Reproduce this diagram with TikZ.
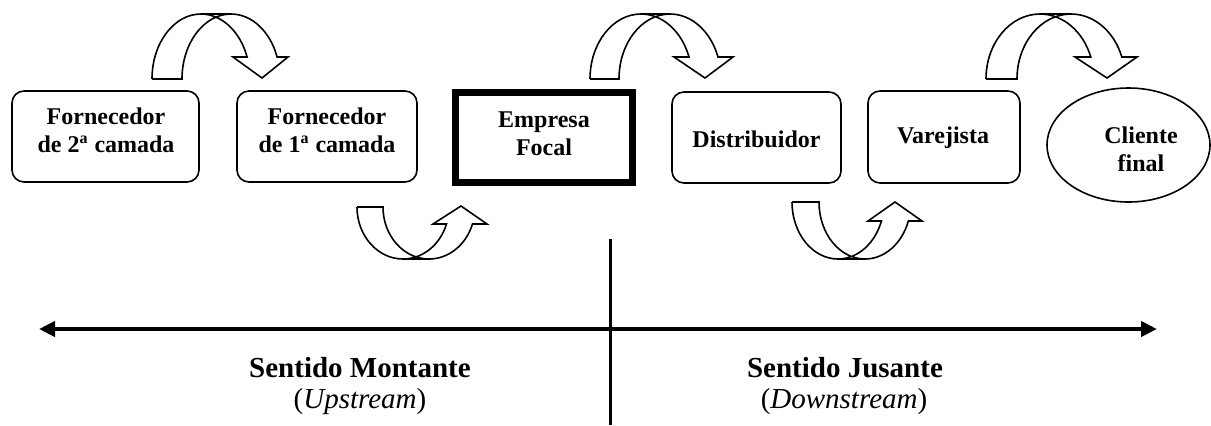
\documentclass[tikz,border=0pt]{standalone}
\usepackage{fontspec}
\setmainfont{Liberation Serif}
\usetikzlibrary{arrows.meta,shapes.geometric}
\newcommand{\boxfont}{\bfseries\fontsize{12}{14}\selectfont}
\begin{document}
\begin{tikzpicture}[x=0.5pt,y=-0.5pt,
  stage/.style={draw,line width=0.8pt,rounded corners=6pt,inner sep=0pt},
  lbl/.style={align=center,font=\boxfont,inner sep=0pt},
  blockarrow/.style={draw,line width=0.8pt,line join=miter},
  axis/.style={line width=2pt},
  head/.style={font=\bfseries\fontsize{14.5}{16}\selectfont,inner sep=0pt},
  sub/.style={font=\fontsize{14.5}{16}\selectfont,inner sep=0pt}]
\useasboundingbox (0,0) rectangle (1211,425);

% supply chain stages
\node[stage,minimum width=93.5pt,minimum height=45.5pt] (f2) at (105.5,136.5) {};
\node[lbl] (f2t) at (106,130) {Fornecedor\\de 2\textsuperscript{a} camada};
\node[stage,minimum width=90pt,minimum height=45.5pt] (f1) at (327,136.5) {};
\node[lbl] (f1t) at (327,130) {Fornecedor\\de 1\textsuperscript{a} camada};
\node[draw,line width=3.5pt,minimum width=88.5pt,minimum height=45pt,inner sep=0pt] (focal) at (544,137.5) {};
\node[lbl] (focalt) at (544,134) {Empresa\\Focal};
\node[stage,minimum width=84.5pt,minimum height=45.5pt] (dist) at (756.5,137.5) {};
\node[lbl] (distt) at (756.5,139) {Distribuidor};
\node[stage,minimum width=76pt,minimum height=46pt] (var) at (944,137) {};
\node[lbl] (vart) at (943,138) {Varejista};
\node[draw,ellipse,line width=0.8pt,minimum width=81.5pt,minimum height=57pt,inner sep=0pt] (cli) at (1128.5,145) {};
\node[lbl] (clit) at (1141,149) {Cliente\\final};

% curved block arrows above the stages
\draw[blockarrow] (152,79) arc[start angle=180,end angle=270,x radius=49,y radius=65]
  -- (231,14) arc[start angle=270,end angle=340.2,x radius=49,y radius=65]
  -- (288,57) -- (262,78) -- (233,57) -- (247.1,57)
  arc[start angle=340.2,end angle=270,x radius=49,y radius=65]
  (231,14) arc[start angle=270,end angle=180,x radius=49,y radius=65] -- (152,79);
\draw[blockarrow] (590,79) arc[start angle=180,end angle=270,x radius=51,y radius=65]
  -- (670,14) arc[start angle=270,end angle=340.2,x radius=51,y radius=65]
  -- (733,57) -- (705,78) -- (674,57) -- (689,57)
  arc[start angle=340.2,end angle=270,x radius=51,y radius=65]
  (670,14) arc[start angle=270,end angle=180,x radius=51,y radius=65] -- (590,79);
\draw[blockarrow] (986,79) arc[start angle=180,end angle=270,x radius=54,y radius=65]
  -- (1071,14) arc[start angle=270,end angle=340.2,x radius=54,y radius=65]
  -- (1137,57) -- (1107,78) -- (1075,57) -- (1090.8,57)
  arc[start angle=340.2,end angle=270,x radius=54,y radius=65]
  (1071,14) arc[start angle=270,end angle=180,x radius=54,y radius=65] -- (986,79);

% curved block arrows below the stages
\draw[blockarrow] (357,207) arc[start angle=180,end angle=90,x radius=46,y radius=52]
  -- (429,259) arc[start angle=90,end angle=19.1,x radius=46,y radius=52]
  -- (487,224) -- (461,206) -- (433,224) -- (446.5,224)
  arc[start angle=19.1,end angle=90,x radius=46,y radius=52]
  (429,259) arc[start angle=90,end angle=180,x radius=46,y radius=52] -- (357,207);
\draw[blockarrow] (792,202) arc[start angle=180,end angle=90,x radius=46,y radius=57]
  -- (865,259) arc[start angle=90,end angle=19.5,x radius=46,y radius=57]
  -- (922,221) -- (895,202) -- (868,221) -- (881.4,221)
  arc[start angle=19.5,end angle=90,x radius=46,y radius=57]
  (865,259) arc[start angle=90,end angle=180,x radius=46,y radius=57] -- (792,202);

% direction axis and divider
\coordinate (west) at (39,329);
\coordinate (east) at (1157,329);
\draw[axis,{Triangle[length=8pt,width=7.5pt]}-{Triangle[length=8pt,width=7.5pt]}] (west) -- (east);
\coordinate (vtop) at (610.5,239);
\coordinate (vbot) at (610.5,425);
\draw[line width=1.8pt] (vtop) -- (vbot);

% direction labels
\node[head,anchor=base] (mont) at (360,377) {Sentido Montante};
\node[sub,anchor=base] (up) at (360,408) {(\textit{Upstream})};
\node[head,anchor=base] (jus) at (845,377) {Sentido Jusante};
\node[sub,anchor=base] (down) at (844,408) {(\textit{Downstream})};
\end{tikzpicture}
\end{document}
